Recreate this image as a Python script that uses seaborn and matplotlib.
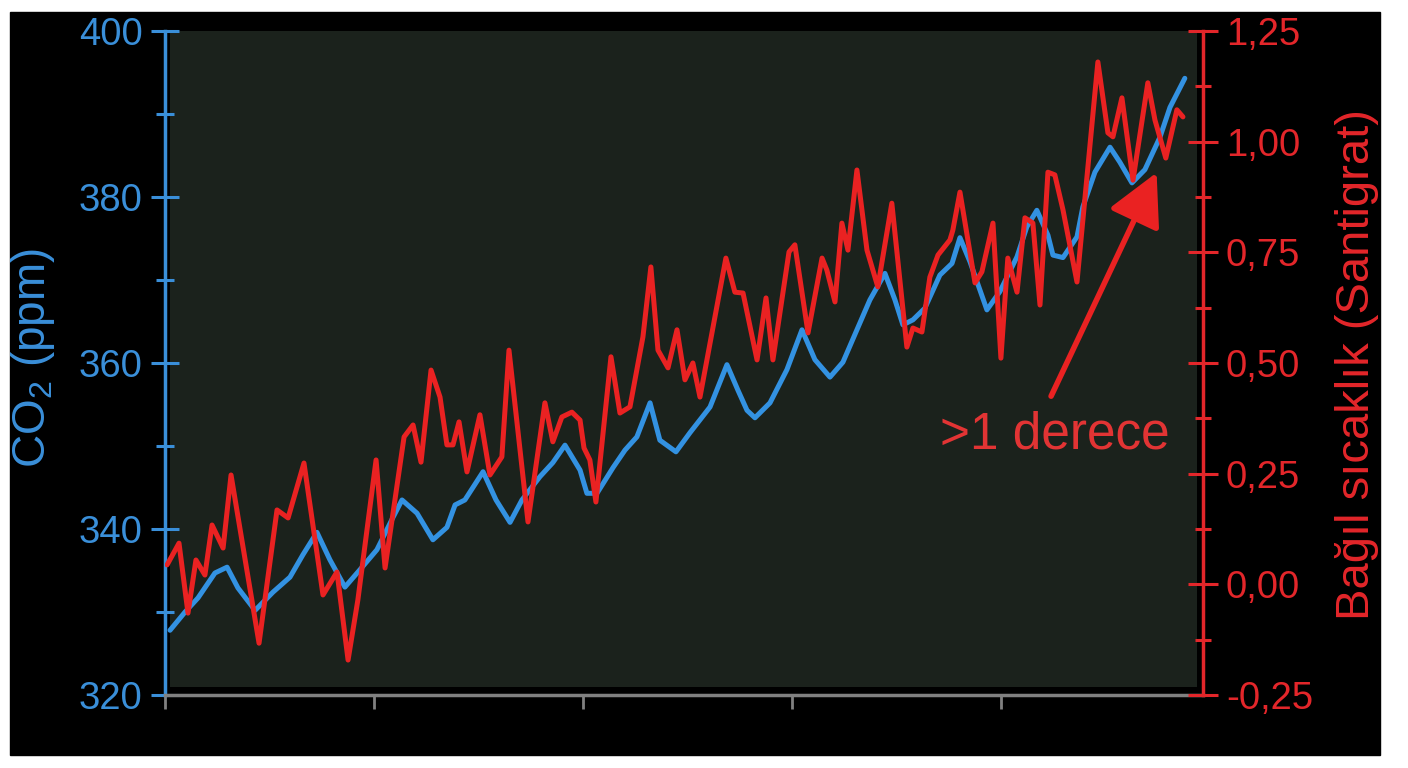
import numpy as np
import pandas as pd
import matplotlib
matplotlib.use('Agg')
import matplotlib.pyplot as plt
import seaborn as sns
from matplotlib.patches import Rectangle
from matplotlib.ticker import FixedLocator, FuncFormatter, NullFormatter

# values
co2_years = [1960.24, 1960.96, 1961.58, 1962.39, 1962.97, 1963.49, 1964.31, 1965.17, 1965.98, 1966.60,
             1967.27, 1967.89, 1968.61, 1969.33, 1970.14, 1970.91, 1971.34, 1972.06, 1972.82, 1973.49,
             1973.88, 1974.35, 1975.22, 1975.84, 1976.51, 1977.08, 1977.94, 1978.56, 1979.14, 1979.86,
             1980.19, 1980.67, 1981.44, 1982.01, 1982.58, 1983.21, 1983.68, 1984.45, 1985.12, 1986.08,
             1986.89, 1987.42, 1987.85, 1988.23, 1988.95, 1989.76, 1990.48, 1991.10, 1991.82, 1992.44,
             1993.11, 1993.73, 1994.45, 1994.93, 1995.31, 1995.79, 1996.36, 1997.08, 1997.66, 1998.04,
             1998.52, 1999.33, 1999.95, 2000.77, 2001.24, 2001.72, 2002.25, 2002.49, 2002.97, 2003.64,
             2003.92, 2004.50, 2005.22, 2005.69, 2006.27, 2006.89, 2007.61, 2008.09, 2008.80]
co2_ppm = [327.8, 330.0, 331.7, 334.7, 335.4, 332.9, 330.2, 332.4, 334.2, 336.9,
           339.6, 336.3, 333.0, 335.1, 337.5, 341.4, 343.5, 341.9, 338.7, 340.2,
           342.9, 343.5, 346.9, 343.5, 340.8, 343.5, 346.3, 348.0, 350.1, 347.1,
           344.3, 344.3, 347.4, 349.5, 351.1, 355.2, 350.7, 349.3, 351.6, 354.7,
           359.8, 356.7, 354.3, 353.4, 355.2, 359.2, 364.0, 360.4, 358.3, 360.1,
           364.0, 367.6, 370.8, 367.6, 364.6, 365.2, 366.6, 370.6, 372.0, 375.1,
           372.2, 366.4, 368.6, 372.8, 376.4, 378.4, 375.4, 373.0, 372.7, 375.2,
           378.8, 383.0, 386.0, 384.2, 381.7, 383.3, 387.2, 390.8, 394.3]

temp_years = [1960.10, 1960.67, 1961.10, 1961.48, 1961.91, 1962.25, 1962.78, 1963.16, 1964.50, 1965.36,
              1965.89, 1966.65, 1967.56, 1968.23, 1968.76, 1969.23, 1970.10, 1970.53, 1971.44, 1971.87,
              1972.25, 1972.73, 1973.16, 1973.49, 1973.78, 1974.07, 1974.45, 1975.07, 1975.55, 1976.12,
              1976.46, 1977.37, 1978.18, 1978.56, 1978.99, 1979.47, 1979.86, 1980.05, 1980.33, 1980.62,
              1981.34, 1981.77, 1982.25, 1982.87, 1983.25, 1983.59, 1984.07, 1984.50, 1984.88, 1985.26,
              1985.60, 1986.84, 1987.27, 1987.66, 1988.33, 1988.76, 1989.09, 1989.86, 1990.14, 1990.77,
              1991.44, 1991.67, 1992.06, 1992.39, 1992.68, 1993.11, 1993.59, 1994.11, 1994.78, 1995.50,
              1995.79, 1996.22, 1996.60, 1996.99, 1997.56, 1997.70, 1998.04, 1998.76, 1999.09, 1999.62,
              2000.00, 2000.33, 2000.77, 2001.15, 2001.53, 2001.87, 2002.25, 2002.58, 2002.97, 2003.64,
              2004.64, 2005.12, 2005.36, 2005.79, 2006.32, 2007.03, 2007.37, 2007.89, 2008.42, 2008.71]
temp_anom = [0.044, 0.093, -0.065, 0.055, 0.021, 0.134, 0.082, 0.247, -0.133, 0.168,
             0.150, 0.274, -0.024, 0.028, -0.171, -0.035, 0.281, 0.037, 0.333, 0.360,
             0.276, 0.484, 0.423, 0.315, 0.315, 0.367, 0.254, 0.383, 0.247, 0.288,
             0.529, 0.141, 0.410, 0.322, 0.378, 0.389, 0.371, 0.308, 0.281, 0.186,
             0.514, 0.387, 0.401, 0.559, 0.717, 0.529, 0.489, 0.575, 0.462, 0.500,
             0.423, 0.737, 0.660, 0.658, 0.507, 0.647, 0.507, 0.751, 0.767, 0.568,
             0.737, 0.710, 0.638, 0.816, 0.755, 0.936, 0.755, 0.672, 0.861, 0.536,
             0.579, 0.570, 0.694, 0.744, 0.778, 0.800, 0.886, 0.681, 0.706, 0.816,
             0.511, 0.737, 0.660, 0.828, 0.816, 0.631, 0.931, 0.925, 0.846, 0.683,
             1.180, 1.020, 1.011, 1.099, 0.913, 1.133, 1.049, 0.963, 1.072, 1.056]

x_ticks = [1960, 1970, 1980, 1990, 2000]
co2_ticks = [320, 340, 360, 380, 400]
co2_minor = [330, 350, 370, 390]
temp_ticks = [-0.25, 0.0, 0.25, 0.5, 0.75, 1.0, 1.25]
temp_minor = [-0.125, 0.125, 0.375, 0.625, 0.875, 1.125]

arrow_tail = (2002.40, 0.425)
arrow_head = (2007.45, 0.93)
note_pos = (2002.6, 0.337)

co2 = pd.DataFrame({'year': co2_years, 'ppm': co2_ppm})
temp = pd.DataFrame({'year': temp_years, 'anom': temp_anom})

BLUE = '#3a8fd9'
BLUE_LINE = '#3392e2'
RED = '#e3262a'
RED_LINE = '#ea2222'
GREY = '#808080'
PANEL = '#1b221c'

sns.set_style('ticks')
plt.rcParams['font.family'] = ['Liberation Sans', 'DejaVu Sans']
plt.rcParams['mathtext.fontset'] = 'custom'
plt.rcParams['mathtext.rm'] = 'Liberation Sans'
plt.rcParams['mathtext.default'] = 'regular'

fig = plt.figure(figsize=(14.08, 7.68), dpi=100, facecolor='white')
fig.patches.append(Rectangle((10 / 1408, 13 / 768), 1370 / 1408, 743 / 768,
                             transform=fig.transFigure, color='black', zorder=-10))

ax = fig.add_axes([165 / 1408, 73 / 768, 1038 / 1408, 664 / 768])
ax.set_facecolor('black')
ax.add_patch(Rectangle((0.005, 0.012), 0.989, 0.988, transform=ax.transAxes,
                       color=PANEL, zorder=0, lw=0))

sns.lineplot(data=co2, x='year', y='ppm', ax=ax, color=BLUE_LINE,
             estimator=None, sort=False, zorder=3)
ax.lines[-1].set_linewidth(3.6)
ax.lines[-1].set_solid_joinstyle('round')
ax.lines[-1].set_solid_capstyle('round')

ax.set_xlim(1960, 2009.67)
ax.set_ylim(320, 400)
ax.set_xticks(x_ticks)
ax.xaxis.set_major_formatter(NullFormatter())
ax.set_xlabel('')
ax.yaxis.set_major_locator(FixedLocator(co2_ticks))
ax.yaxis.set_minor_locator(FixedLocator(co2_minor))
ax.tick_params(axis='x', colors=GREY, length=10, width=2, direction='out')
ax.tick_params(axis='y', which='major', colors=BLUE, labelcolor=BLUE, labelsize=27.5,
               length=20, width=2.2, direction='inout', pad=6)
ax.tick_params(axis='y', which='minor', colors=BLUE, length=13, width=2.2, direction='inout')
for s in ['top', 'right']:
    ax.spines[s].set_visible(False)
ax.spines['left'].set_color(BLUE)
ax.spines['left'].set_linewidth(2.5)
ax.spines['bottom'].set_color(GREY)
ax.spines['bottom'].set_linewidth(2.5)
ax.set_ylabel('CO$_2$ (ppm)', color=BLUE, fontsize=33)
ax.yaxis.set_label_coords(-0.127, 0.507)
ax.yaxis.label.set_verticalalignment('center')

ax2 = ax.twinx()
sns.lineplot(data=temp, x='year', y='anom', ax=ax2, color=RED_LINE,
             estimator=None, sort=False, zorder=4)
ax2.lines[-1].set_linewidth(3.6)
ax2.lines[-1].set_solid_joinstyle('round')
ax2.lines[-1].set_solid_capstyle('round')
ax2.set_ylim(-0.25, 1.25)
ax2.yaxis.set_major_locator(FixedLocator(temp_ticks))
ax2.yaxis.set_minor_locator(FixedLocator(temp_minor))
ax2.yaxis.set_major_formatter(FuncFormatter(lambda v, p: f'{v:.2f}'.replace('.', ',')))
ax2.tick_params(axis='y', which='major', colors=RED, labelcolor=RED, labelsize=27.5,
                length=21, width=2.2, direction='inout', pad=6)
ax2.tick_params(axis='y', which='minor', colors=RED, length=12, width=2.2, direction='inout')
for s in ['top', 'left', 'bottom']:
    ax2.spines[s].set_visible(False)
ax2.spines['right'].set_color(RED)
ax2.spines['right'].set_linewidth(2.5)
ax2.set_ylabel('Bağıl sıcaklık (Santigrat)', color=RED, fontsize=34)
ax2.yaxis.set_label_coords(1.148, 0.497)
ax2.yaxis.label.set_verticalalignment('center')

ax2.annotate('', xy=arrow_head, xytext=arrow_tail,
             arrowprops=dict(arrowstyle='-|>,head_length=0.8,head_width=0.42',
                             mutation_scale=40, color=RED_LINE, lw=4,
                             shrinkA=0, shrinkB=0), zorder=5)
ax2.text(note_pos[0], note_pos[1], '>1 derece', color='#e23434', fontsize=37,
         ha='center', va='center', zorder=5)

fig.savefig('out.png', dpi=100, facecolor=fig.get_facecolor())
